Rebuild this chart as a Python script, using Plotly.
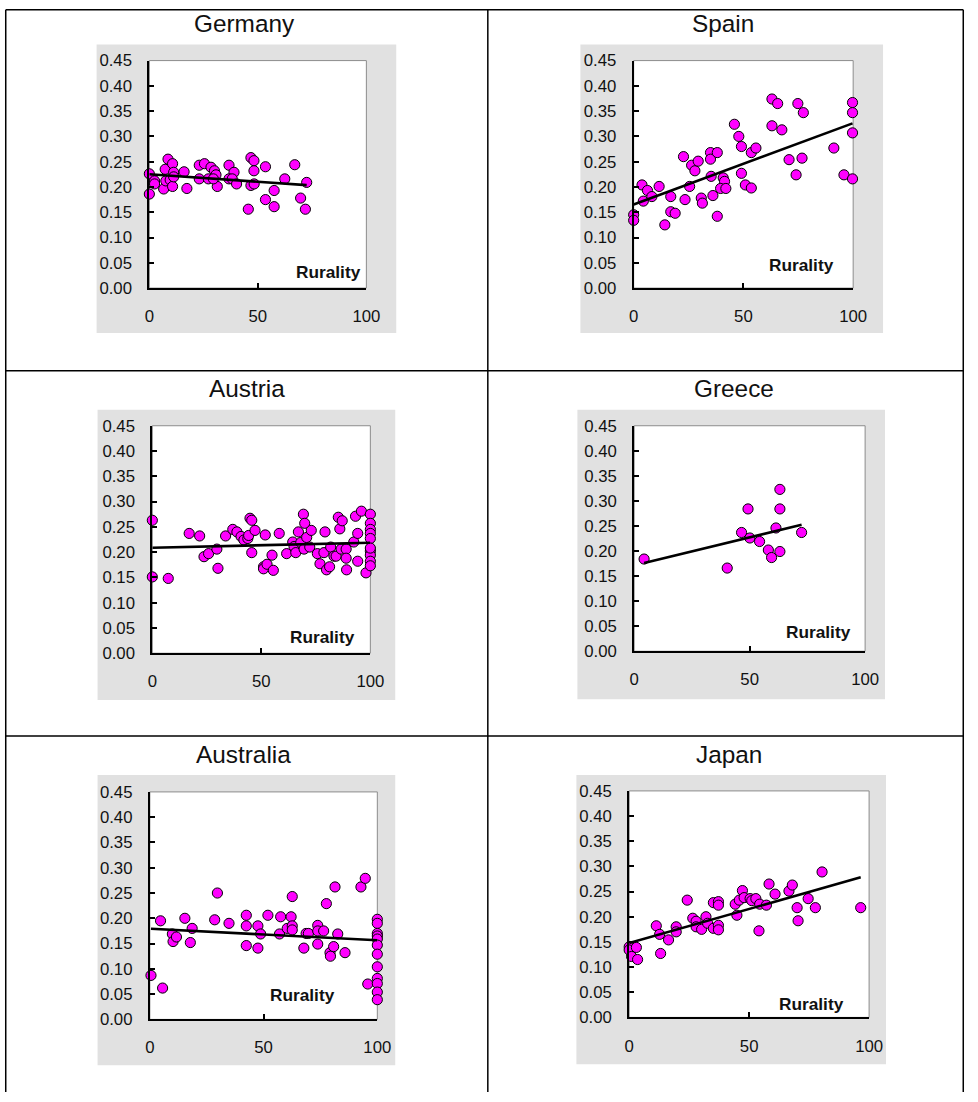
import numpy as np
import plotly.graph_objects as go

# ---------------- data ----------------
countries = ["Germany", "Spain", "Austria", "Greece", "Australia", "Japan"]
axis_label = "Rurality"
y_ticks = [0.0, 0.05, 0.10, 0.15, 0.20, 0.25, 0.30, 0.35, 0.40, 0.45]
x_ticks = [0, 50, 100]

germany_x = [0, 0, 2.4, 2.4, 6.6, 7.3, 8.6, 7.6, 9.6, 10.7, 10.7, 11.2, 11.2, 16, 17.3, 23, 25.4, 23, 27.2, 28.4,
             30, 30.7, 31.3, 29.5, 36.7, 39, 36.7, 38.2, 40.2, 45.6, 46.8, 48.2, 48.2, 46.8, 48.3, 53.5, 53.5, 57.5,
             57.5, 62.4, 67, 69.7, 71.9, 72.5]
germany_y = [0.226, 0.186, 0.212, 0.206, 0.196, 0.235, 0.255, 0.212, 0.214, 0.246, 0.201, 0.229, 0.220, 0.230,
             0.197, 0.243, 0.246, 0.216, 0.216, 0.239, 0.232, 0.224, 0.201, 0.216, 0.243, 0.229, 0.216, 0.216,
             0.206, 0.156, 0.258, 0.252, 0.232, 0.203, 0.206, 0.240, 0.175, 0.193, 0.161, 0.216, 0.244, 0.178,
             0.156, 0.209]

spain_x = [0, 0, 3.8, 4.4, 6.3, 8.3, 11.6, 14.2, 16.9, 16.9, 18.9, 22.7, 23.4, 25.5, 26.4, 27.9, 29.4, 30.8, 31.3,
           35, 35, 38.1, 35.3, 36.1, 38.1, 40.8, 41.4, 39.6, 42, 45.9, 47.9, 49.1, 49.1, 50.9, 53.6, 53.6, 55.7,
           63, 65.6, 63, 67.5, 70.8, 74, 74.8, 76.7, 77.3, 91.2, 95.8, 99.7, 99.7, 99.7, 99.7]
spain_y = [0.145, 0.134, 0.204, 0.172, 0.193, 0.181, 0.201, 0.125, 0.181, 0.151, 0.148, 0.260, 0.175, 0.201,
           0.243, 0.232, 0.251, 0.178, 0.168, 0.268, 0.255, 0.268, 0.221, 0.183, 0.142, 0.218, 0.211, 0.197,
           0.197, 0.324, 0.300, 0.280, 0.227, 0.204, 0.198, 0.268, 0.277, 0.374, 0.365, 0.321, 0.313, 0.254,
           0.224, 0.365, 0.257, 0.347, 0.277, 0.224, 0.367, 0.347, 0.307, 0.216]

austria_x = [0, 0, 7.3, 16.9, 21.7, 23.7, 25.8, 29.6, 30.1, 33.6, 36.9, 38.8, 40.7, 42, 43.8, 44.2, 44.8, 45.6,
             47.1, 45.6, 51, 51, 52.6, 51.8, 54.9, 55.5, 58.2, 61.6, 64.4, 65, 65.8, 67, 68.1, 69.3, 69.9, 69.6,
             70.8, 72.2, 72.9, 75.7, 76.9, 78.7, 79.2, 79.9, 81.3, 81.8, 83.3, 84.3, 85.3, 86, 86.6, 87.1, 88.9,
             88.9, 89.1, 92.4, 93.2, 94.2, 94.2, 95.9, 98, 100, 100, 100, 100, 100, 100, 100, 100, 100, 100]
austria_y = [0.263, 0.151, 0.148, 0.237, 0.232, 0.191, 0.197, 0.206, 0.168, 0.232, 0.245, 0.240, 0.231, 0.224,
             0.227, 0.233, 0.267, 0.263, 0.243, 0.199, 0.171, 0.167, 0.176, 0.234, 0.194, 0.164, 0.237, 0.197,
             0.220, 0.211, 0.199, 0.240, 0.219, 0.275, 0.257, 0.206, 0.229, 0.210, 0.243, 0.197, 0.177, 0.199,
             0.240, 0.165, 0.171, 0.210, 0.192, 0.192, 0.269, 0.246, 0.206, 0.262, 0.206, 0.188, 0.165, 0.220,
             0.271, 0.237, 0.182, 0.281, 0.159, 0.275, 0.257, 0.245, 0.237, 0.227, 0.202, 0.194, 0.182, 0.173,
             0.208]

greece_x = [4.3, 40.3, 46.5, 49.3, 50.1, 54.3, 58.1, 59.5, 61.4, 63.1, 63.1, 63.1, 72.5]
greece_y = [0.184, 0.166, 0.237, 0.284, 0.226, 0.219, 0.202, 0.187, 0.246, 0.323, 0.284, 0.199, 0.237]

australia_x = [0.5, 5.6, 4.7, 9.9, 10.2, 11.7, 15.4, 17.8, 18.6, 28.5, 29.7, 34.8, 42.4, 42.4, 42.4, 47.5, 47.5,
               48.7, 51.9, 57, 57.5, 60.4, 62.1, 62.6, 62.6, 62.6, 67.7, 68.7, 69.7, 73.8, 73.8, 73.8, 76.4, 77.6,
               79.2, 79.4, 80.8, 81.4, 82.6, 85.8, 92.8, 94.7, 95.8,
               100, 100, 100, 100, 100, 100, 100, 100, 100, 100, 100, 100]
australia_y = [0.087, 0.062, 0.195, 0.169, 0.154, 0.163, 0.200, 0.152, 0.180, 0.197, 0.250, 0.190, 0.206, 0.185,
               0.146, 0.141, 0.185, 0.169, 0.206, 0.169, 0.203, 0.180, 0.203, 0.243, 0.185, 0.177, 0.141, 0.170,
               0.170, 0.186, 0.175, 0.149, 0.175, 0.229, 0.132, 0.125, 0.144, 0.262, 0.169, 0.132, 0.262, 0.279,
               0.070,
               0.198, 0.190, 0.170, 0.165, 0.159, 0.147, 0.129, 0.104, 0.081, 0.071, 0.054, 0.039]

japan_x = [0, 0, 1, 3, 3.5, 11.3, 12.7, 13.1, 16.4, 19.6, 19.6, 24.2, 26.5, 27.9, 27.9, 30.2, 32, 32.7, 35.1,
           35.1, 37.2, 37.2, 37.2, 37.2, 44.2, 44.9, 45.9, 47.2, 47.9, 50.4, 51.1, 52.8, 54.1, 54.4, 57.2, 58.3,
           60.8, 66.6, 68, 70, 70.4, 74.6, 77.6, 80.4, 96.5]
japan_y = [0.140, 0.134, 0.121, 0.139, 0.115, 0.182, 0.165, 0.127, 0.154, 0.180, 0.170, 0.233, 0.197, 0.191,
           0.180, 0.175, 0.200, 0.187, 0.228, 0.177, 0.230, 0.223, 0.183, 0.174, 0.225, 0.203, 0.233, 0.252,
           0.238, 0.236, 0.232, 0.236, 0.172, 0.225, 0.223, 0.265, 0.245, 0.251, 0.263, 0.218, 0.192, 0.236,
           0.218, 0.289, 0.218]

series = [(germany_x, germany_y), (spain_x, spain_y), (austria_x, austria_y),
          (greece_x, greece_y), (australia_x, australia_y), (japan_x, japan_y)]

# ---------------- layout geometry ----------------
W, H = 978, 1102
FONT = "Arial, Liberation Sans, sans-serif"
# the photographed page comes out slightly reduced and shifted; geometry below is given in
# picture pixels and mapped back to page pixels
S, AX, AY = 0.985, 6.0, 8.3

# plot box (l, r, t, b), grey chart box (l, r, t, b), title centre (x, y), label right/centre (x, y)
geom = [
    dict(plot=(151, 369, 60, 288), gray=(98, 399, 44, 333), title=(247, 23), lab=(366, 272)),
    dict(plot=(637.5, 858, 60, 288), gray=(584, 888, 44, 333), title=(727, 23), lab=(841, 265)),
    dict(plot=(154, 373, 426, 654), gray=(99, 398, 410, 701), title=(249, 389), lab=(360, 638)),
    dict(plot=(638, 870, 426, 652), gray=(581, 890, 410, 700), title=(738, 389), lab=(858, 633)),
    dict(plot=(151.5, 380, 793, 1021), gray=(99, 398, 776, 1067), title=(246, 755), lab=(339, 997)),
    dict(plot=(633, 874, 792, 1019), gray=(580, 891, 776, 1066), title=(733, 755), lab=(851, 1006)),
]


def px(x):
    return min(max((x - AX) / S, 0.75), W - 0.75)


def py(y):
    return min(max((y - AY) / S, 0.75), H)


def fx(x):
    return px(x) / W


def fy(y):
    return 1 - py(y) / H


fig = go.Figure()
shapes = []
annotations = []
layout_axes = {}
tick_font = dict(family=FONT, size=16.5 / S, color="#111")

for i, (name, (xs, ys), g) in enumerate(zip(countries, series, geom), start=1):
    xa = "x" if i == 1 else f"x{i}"
    ya = "y" if i == 1 else f"y{i}"
    xkey = "xaxis" if i == 1 else f"xaxis{i}"
    ykey = "yaxis" if i == 1 else f"yaxis{i}"
    pl, pr, pt, pb = g["plot"]
    gl, gr, gt, gb = g["gray"]

    # grey chart area and white plot area with grey border
    shapes.append(dict(type="rect", xref="paper", yref="paper", x0=fx(gl), x1=fx(gr), y0=fy(gb), y1=fy(gt),
                       fillcolor="#E1E1E1", line=dict(width=0), layer="below"))
    shapes.append(dict(type="rect", xref="paper", yref="paper", x0=fx(pl), x1=fx(pr), y0=fy(pb), y1=fy(pt),
                       fillcolor="white", line=dict(color="#8C8C8C", width=1), layer="below"))

    xarr = np.array(xs, dtype=float)
    yarr = np.array(ys, dtype=float)
    slope, intercept = np.polyfit(xarr, yarr, 1)
    lx = [xarr.min(), xarr.max()]
    ly = [intercept + slope * v for v in lx]

    fig.add_trace(go.Scatter(x=xs, y=ys, mode="markers", xaxis=xa, yaxis=ya, cliponaxis=False,
                             marker=dict(size=10 / S, color="#FF00FF", line=dict(color="black", width=1)),
                             showlegend=False, hoverinfo="x+y"))
    fig.add_trace(go.Scatter(x=lx, y=ly, mode="lines", xaxis=xa, yaxis=ya, cliponaxis=False,
                             line=dict(color="black", width=2.6), showlegend=False, hoverinfo="skip"))

    layout_axes[xkey] = dict(domain=[fx(pl), fx(pr)], anchor=ya, range=[0, 100], tickvals=x_ticks,
                             ticktext=[str(v) for v in x_ticks], ticks="inside", ticklen=5, tickwidth=1.5,
                             tickcolor="black", showline=True, linecolor="black", linewidth=2,
                             showgrid=False, zeroline=False, ticklabelstandoff=12,
                             tickfont=tick_font, fixedrange=True)
    layout_axes[ykey] = dict(domain=[fy(pb), fy(pt)], anchor=xa, range=[0, 0.45], tickvals=y_ticks,
                             ticktext=[f"{v:.2f}" for v in y_ticks], ticks="inside", ticklen=5, tickwidth=1.5,
                             tickcolor="black", showline=True, linecolor="black", linewidth=2,
                             showgrid=False, zeroline=False, ticklabelstandoff=12,
                             tickfont=tick_font, fixedrange=True)

    tx, ty = g["title"]
    annotations.append(dict(text=name, xref="paper", yref="paper", x=fx(tx), y=fy(ty), xanchor="center",
                            yanchor="middle", showarrow=False, font=dict(family=FONT, size=24 / S, color="#111")))
    lx_, ly_ = g["lab"]
    annotations.append(dict(text=f"<b>{axis_label}</b>", xref="paper", yref="paper", x=fx(lx_), y=fy(ly_),
                            xanchor="right", yanchor="middle", showarrow=False,
                            font=dict(family=FONT, size=17 / S, color="#111")))

# table borders
border = dict(color="black", width=1.5)
for y in (5, 371, 737):
    shapes.append(dict(type="line", xref="paper", yref="paper", x0=fx(4), x1=fx(976), y0=fy(y), y1=fy(y),
                       line=border, layer="above"))
for x in (4, 491, 976):
    shapes.append(dict(type="line", xref="paper", yref="paper", x0=fx(x), x1=fx(x), y0=fy(5), y1=0,
                       line=border, layer="above"))

fig.update_layout(width=W, height=H, autosize=False, margin=dict(l=0, r=0, t=0, b=0),
                  paper_bgcolor="white", plot_bgcolor="rgba(0,0,0,0)", showlegend=False,
                  shapes=shapes, annotations=annotations, **layout_axes)

fig.write_html("out.html", config={"displayModeBar": False},
               post_script="document.body.style.margin='0';document.documentElement.style.overflow='hidden';")
